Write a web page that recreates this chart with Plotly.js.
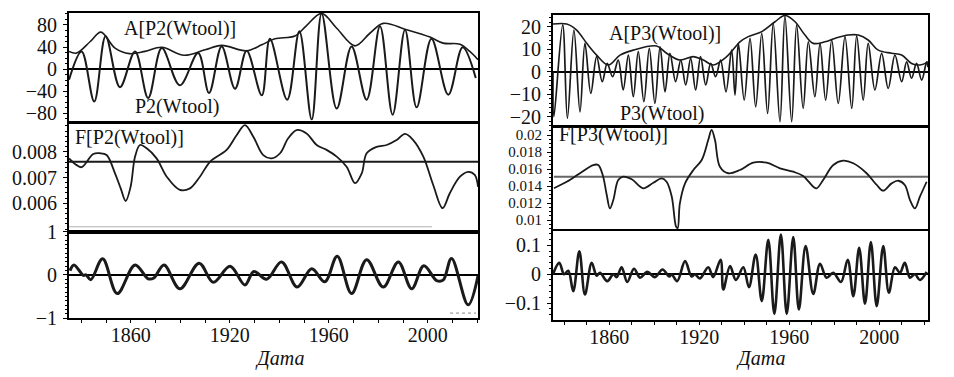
<!DOCTYPE html>
<html>
<head>
<meta charset="utf-8">
<script src="https://cdn.plot.ly/plotly-3.0.1.min.js"></script>
<style>html,body{margin:0;padding:0;background:#fff;}#chart{width:954px;height:377px;}</style>
</head>
<body>
<div id="chart"></div>
<script>
// ---- Data ----
const tickYears = [1880, 1920, 1960, 2000];
const tickLabels = ['1860', '1920', '1960', '2000'];
const p2Ticks = [-80, -40, 0, 40, 80];
const f2Ticks = [0.006, 0.007, 0.008];
const r2Ticks = [-1, 0, 1];
const p3Ticks = [-20, -10, 0, 10, 20];
const f3Ticks = [0.01, 0.012, 0.014, 0.016, 0.018, 0.02];
const r3Ticks = [-0.1, 0, 0.1];

// Left column: P2
const p2Years = [1855.0,1860.1,1865.2,1869.8,1875.6,1881.7,1887.0,1892.5,1899.8,1907.2,1911.6,1916.7,1922.1,1926.8,1932.9,1936.2,1943.2,1948.1,1953.1,1957.1,1963.2,1969.2,1975.3,1980.7,1985.8,1990.8,1995.5,2001.5,2008.3,2014.1,2019.4];
const p2Vals  = [-19.5,32,-59,59.4,-33,32,-52.7,38,-29.7,29,-43.6,41,-35.8,33.3,-47.9,55,-55.8,68.5,-92,101,-72,41,-55.7,77.6,-83,71.5,-69.7,55,-46.7,39.5,-16.4];

const a2Years = [1855.0,1858.1,1863.6,1867.9,1873.6,1879.4,1885.7,1892.5,1901.5,1910.0,1916.7,1926.8,1932.9,1938.2,1946.3,1951.0,1957.1,1963.2,1970.6,1976.6,1982.0,1991.4,2000.9,2006.2,2013.0,2017.0,2020.3];
const a2Vals  = [32,29,50,67,38,28,32,39.5,25,35,43,33,44,55,60,79,101,74,42,65,83,71.5,58,47,45,32,17];

const f2Years = [1855.0,1858.1,1860.1,1864.8,1867.5,1870.2,1873.6,1875.9,1877.9,1879.9,1881.7,1883.7,1886.4,1890.4,1894.5,1899.8,1903.9,1907.9,1912.0,1918.7,1922.8,1926.1,1929.5,1933.5,1936.9,1940.3,1943.6,1947.0,1951.0,1955.1,1959.1,1963.2,1967.2,1970.6,1973.3,1975.3,1979.3,1983.4,1987.4,1990.8,1994.1,1998.2,2002.2,2006.0,2008.9,2013.0,2016.3,2019.0,2020.3];
const f2Vals  = [0.00774,0.00748,0.0074,0.00791,0.00794,0.00787,0.00716,0.00658,0.00609,0.00664,0.00781,0.00826,0.00813,0.00774,0.00703,0.00652,0.00658,0.00703,0.00761,0.00807,0.00865,0.00903,0.00858,0.00787,0.00774,0.00794,0.00852,0.00884,0.00871,0.00826,0.00807,0.00781,0.00742,0.00678,0.00716,0.00794,0.00819,0.00826,0.00845,0.00869,0.00845,0.00781,0.00671,0.00581,0.00639,0.00703,0.00722,0.0071,0.00664];
const f2Level = 0.00761;
const f2FloorYears = [1855.0, 2001.7];
const f2Floor = 0.00509;

const r2Years = [1855.4,1857.0,1860.8,1861.9,1863.8,1868.6,1874.5,1881.7,1887.0,1889.3,1893.4,1899.8,1907.6,1913.3,1920.1,1926.1,1929.7,1934.9,1940.9,1947.2,1953.1,1958.4,1963.4,1969.2,1975.3,1982.0,1988.1,1993.5,1998.4,2003.6,2006.2,2009.6,2016.3,2020.3];
const r2Vals  = [0.1,0.23,-0.01,0.0,-0.11,0.37,-0.43,0.23,-0.09,-0.07,0.23,-0.32,0.27,-0.17,0.2,-0.23,0.08,-0.1,0.3,-0.28,0.14,-0.16,0.43,-0.43,0.35,-0.28,0.3,-0.32,0.21,-0.13,-0.12,0.38,-0.69,-0.02];
const r2DotYears = [2009.0, 2019.5];
const r2DotVal = -0.88;

// Right column: P3
const p3Years = [1855.0,1855.4,1859.3,1861.4,1864.3,1867.0,1869.2,1871.8,1874.4,1876.9,1879.1,1881.5,1884.0,1886.2,1888.5,1890.7,1892.9,1895.4,1897.8,1900.3,1902.6,1904.8,1907.0,1909.5,1911.8,1914.0,1916.2,1918.4,1920.6,1922.9,1925.1,1927.3,1929.5,1931.9,1934.4,1935.9,1937.4,1940.0,1942.6,1945.1,1947.8,1950.4,1952.9,1955.9,1958.1,1961.1,1963.3,1966.2,1968.5,1971.4,1973.7,1976.2,1978.9,1981.8,1984.8,1987.8,1990.0,1992.9,1995.1,1998.1,2001.1,2004.0,2007.0,2010.0,2012.2,2014.4,2016.6,2018.9,2021.1,2021.7];
const p3Vals  = [0,-20,20.8,-20.7,18.5,-17.8,12.6,-9.6,6.7,-4.4,3.7,-2.2,5.2,-8.1,7.4,-11.1,8.9,-13.3,10.4,-14.1,11.1,-8.9,8.2,-4.4,5.2,-5.9,5.9,-8.1,6.7,-5.9,3.7,-2.2,5.2,-8.9,9.6,-10.4,12.6,-12.6,14.8,-15.6,17.1,-18.5,21.5,-22.2,24.8,-22.2,20.8,-16.3,13.3,-11.1,12.6,-12.6,14.1,-14.1,15.6,-16.3,15.9,-12.6,12.6,-8.1,8.2,-7.4,7.4,-4.4,4.4,-2.9,3.7,-3.7,4.4,2];

const a3Years = [1855.0,1861.1,1865.5,1870.0,1874.4,1879.6,1884.8,1890.7,1901.1,1905.5,1911.4,1917.4,1921.8,1926.2,1932.2,1938.1,1941.8,1947.8,1953.7,1958.1,1962.6,1967.0,1970.7,1975.9,1980.3,1986.2,1990.7,1995.1,1999.6,2005.5,2010.0,2014.4,2018.1,2021.7];
const a3Vals  = [21.2,21.2,18.5,12.6,7.4,3,7.4,9.6,11.4,8.2,5.2,6.7,5.2,3,6.7,13.3,15.6,17.8,22.2,25,22.2,16.3,12.6,13.3,14.8,16.3,16.3,14.1,9.6,8.2,7.4,3.7,3,4.4];

const f3Years = [1855.4,1861.1,1867.0,1872.9,1875.1,1877.1,1878.9,1880.3,1881.8,1884.0,1886.2,1890.0,1895.1,1899.6,1903.3,1905.5,1907.8,1909.7,1910.4,1911.4,1913.7,1917.4,1921.1,1924.0,1925.5,1927.0,1929.2,1932.9,1938.1,1944.0,1950.0,1955.9,1961.8,1966.2,1970.7,1972.2,1975.1,1979.6,1984.0,1988.5,1994.4,1998.9,2001.8,2005.5,2008.5,2011.4,2013.7,2015.9,2018.1,2021.1];
const f3Vals  = [0.01373,0.0145,0.0155,0.01647,0.01647,0.01529,0.01294,0.01137,0.01235,0.01471,0.0151,0.01479,0.01373,0.01439,0.0149,0.0145,0.01274,0.00921,0.00902,0.01196,0.01431,0.01588,0.01706,0.01941,0.0206,0.01941,0.01627,0.0155,0.01588,0.01674,0.01674,0.01608,0.01568,0.01518,0.01392,0.01373,0.01471,0.01647,0.01698,0.01667,0.0155,0.01412,0.01345,0.01431,0.01462,0.01412,0.01235,0.01137,0.01274,0.0145];
const f3Level = 0.0151;

const r3Years = [1855.0,1857.8,1859.9,1861.8,1864.0,1866.7,1869.2,1872.2,1874.4,1875.9,1879.1,1881.8,1883.3,1885.5,1888.0,1891.0,1893.7,1896.9,1900.3,1903.7,1906.7,1907.7,1910.2,1913.7,1916.6,1918.1,1920.3,1924.0,1926.2,1929.5,1930.7,1933.7,1936.3,1939.6,1942.1,1945.1,1947.8,1950.7,1953.4,1956.3,1958.9,1961.8,1964.3,1967.3,1970.7,1973.7,1976.6,1979.6,1983.0,1986.0,1988.5,1991.1,1993.7,1996.3,1998.9,2001.8,2004.3,2007.0,2009.2,2011.4,2013.7,2015.9,2018.1,2021.1];
const r3Vals  = [0,0.039,0,0.012,-0.059,0.079,-0.07,0.039,-0.005,0.005,-0.024,0,-0.01,0.024,-0.027,0.019,-0.012,0.008,-0.01,0.016,-0.008,0,-0.024,0.045,-0.008,0,-0.015,0.024,-0.01,0.05,-0.053,0.028,-0.02,0.024,-0.045,0.068,-0.093,0.119,-0.137,0.137,-0.137,0.128,-0.122,0.097,-0.068,0.036,-0.012,0.005,-0.027,0.05,-0.076,0.091,-0.102,0.111,-0.11,0.097,-0.064,0.024,0.005,0.039,-0.012,0,-0.02,0.008];

// ---- Traces ----
const ink = '#1a1a1a';
const sp = {shape: 'spline', smoothing: 1};
const traces = [
  {x: a2Years, y: a2Vals, xaxis: 'x', yaxis: 'y', mode: 'lines', line: Object.assign({color: ink, width: 1.6}, sp)},
  {x: p2Years, y: p2Vals, xaxis: 'x', yaxis: 'y', mode: 'lines', line: Object.assign({color: ink, width: 2}, sp)},
  {x: f2FloorYears, y: [f2Floor, f2Floor], xaxis: 'x2', yaxis: 'y2', mode: 'lines', line: {color: '#b0b0b0', width: 1}},
  {x: [f2Years[0], f2Years[f2Years.length - 1]], y: [f2Level, f2Level], xaxis: 'x2', yaxis: 'y2', mode: 'lines', line: {color: ink, width: 2}},
  {x: f2Years, y: f2Vals, xaxis: 'x2', yaxis: 'y2', mode: 'lines', line: Object.assign({color: ink, width: 1.8}, sp)},
  {x: r2DotYears, y: [r2DotVal, r2DotVal], xaxis: 'x3', yaxis: 'y3', mode: 'lines', line: {color: '#888', width: 1, dash: 'dot'}},
  {x: r2Years, y: r2Vals, xaxis: 'x3', yaxis: 'y3', mode: 'lines', line: Object.assign({color: ink, width: 3}, sp)},

  {x: a3Years, y: a3Vals, xaxis: 'x4', yaxis: 'y4', mode: 'lines', line: Object.assign({color: ink, width: 1.6}, sp)},
  {x: p3Years, y: p3Vals, xaxis: 'x4', yaxis: 'y4', mode: 'lines', line: Object.assign({color: ink, width: 1.7}, sp)},
  {x: [f3Years[0], p3Years[p3Years.length - 1]], y: [f3Level, f3Level], xaxis: 'x5', yaxis: 'y5', mode: 'lines', line: {color: '#666', width: 2}},
  {x: f3Years, y: f3Vals, xaxis: 'x5', yaxis: 'y5', mode: 'lines', line: Object.assign({color: ink, width: 1.8}, sp)},
  {x: r3Years, y: r3Vals, xaxis: 'x6', yaxis: 'y6', mode: 'lines', line: Object.assign({color: ink, width: 2.6}, sp)}
];

// ---- Layout ----
const FONT = 'Liberation Serif, Times New Roman, serif';
const tickFont = {family: FONT, size: 20, color: '#111'};
function xa(domain, range, labels, anchor) {
  return {
    domain: domain, range: range, anchor: anchor,
    showline: true, mirror: true, linecolor: '#000', linewidth: 2,
    showgrid: false, zeroline: false,
    ticks: labels ? 'outside' : '', ticklen: 2, tickcolor: '#000',
    tickvals: tickYears, ticktext: tickLabels,
    showticklabels: labels, tickfont: tickFont, ticklabelstandoff: -4,
    minor: labels ? {ticks: 'outside', ticklen: 3, dtick: 10, tickcolor: '#000'} : undefined
  };
}
function ya(domain, range, tickvals, minorD, anchor, zl, fs) {
  return {
    domain: domain, range: range, anchor: anchor,
    showline: true, mirror: true, linecolor: '#000', linewidth: 2,
    showgrid: false, zeroline: zl, zerolinecolor: '#000', zerolinewidth: 2,
    ticks: 'outside', ticklen: 4, tickcolor: '#000', tickmode: 'array', tickvals: tickvals,
    tickfont: Object.assign({}, tickFont, fs ? {size: fs} : {}), ticklabelstandoff: 2,
    minor: {ticks: 'outside', ticklen: 2.5, dtick: minorD, tick0: 0, tickcolor: '#000'}
  };
}
const LX = [69/954, 478/954], RX = [553/954, 928/954];
const d = (top, bot) => [1 - bot/377, 1 - top/377];
const LR = [1855, 2020.3], RR = [1855, 2021.7];

const annFont = {family: FONT, size: 20, color: '#111'};
function ann(text, px, py, anchor, italic) {
  return {text: text, xref: 'paper', yref: 'paper', x: px/954, y: 1 - py/377,
    xanchor: anchor, yanchor: 'middle', showarrow: false,
    font: Object.assign({}, annFont, italic ? {style: 'italic'} : {})};
}

const layout = {
  width: 954, height: 377,
  margin: {l: 0, r: 0, t: 0, b: 0},
  paper_bgcolor: '#fff', plot_bgcolor: '#fff',
  showlegend: false,
  xaxis:  xa(LX, LR, false, 'y'),
  yaxis:  ya(d(13, 120.5), [-93.6, 101.8], p2Ticks, 10, 'x', true),
  xaxis2: xa(LX, LR, false, 'y2'),
  yaxis2: ya(d(123.5, 231.5), [0.004907, 0.009093], f2Ticks, 0.0002, 'x2', false),
  xaxis3: xa(LX, LR, true, 'y3'),
  yaxis3: ya(d(231.5, 318.3), [-1, 1], r2Ticks, 0.1, 'x3', true),
  xaxis4: xa(RX, RR, false, 'y4'),
  yaxis4: ya(d(15, 126), [-24.1, 25.2], p3Ticks, 2, 'x4', true),
  xaxis5: xa(RX, RR, false, 'y5'),
  yaxis5: ya(d(127.3, 229.3), [0.008906, 0.020906], f3Ticks, 0.0005, 'x5', false, 15),
  xaxis6: xa(RX, RR, true, 'y6'),
  yaxis6: ya(d(231, 320), [-0.158, 0.149], r3Ticks, 0.02, 'x6', true),
  annotations: [
    ann('A[P2(Wtool)]', 122, 28, 'left'),
    ann('P2(Wtool)', 133, 106, 'left'),
    ann('F[P2(Wtool)]', 73, 137, 'left'),
    ann('A[P3(Wtool)]', 607, 33, 'left'),
    ann('P3(Wtool)', 618, 113, 'left'),
    ann('F[P3(Wtool)]', 557, 135, 'left'),
    ann('Дата', 279, 358, 'center', true),
    ann('Дата', 760, 358, 'center', true)
  ]
};

Plotly.newPlot('chart', traces, layout, {staticPlot: true, displayModeBar: false});
</script>
</body>
</html>
